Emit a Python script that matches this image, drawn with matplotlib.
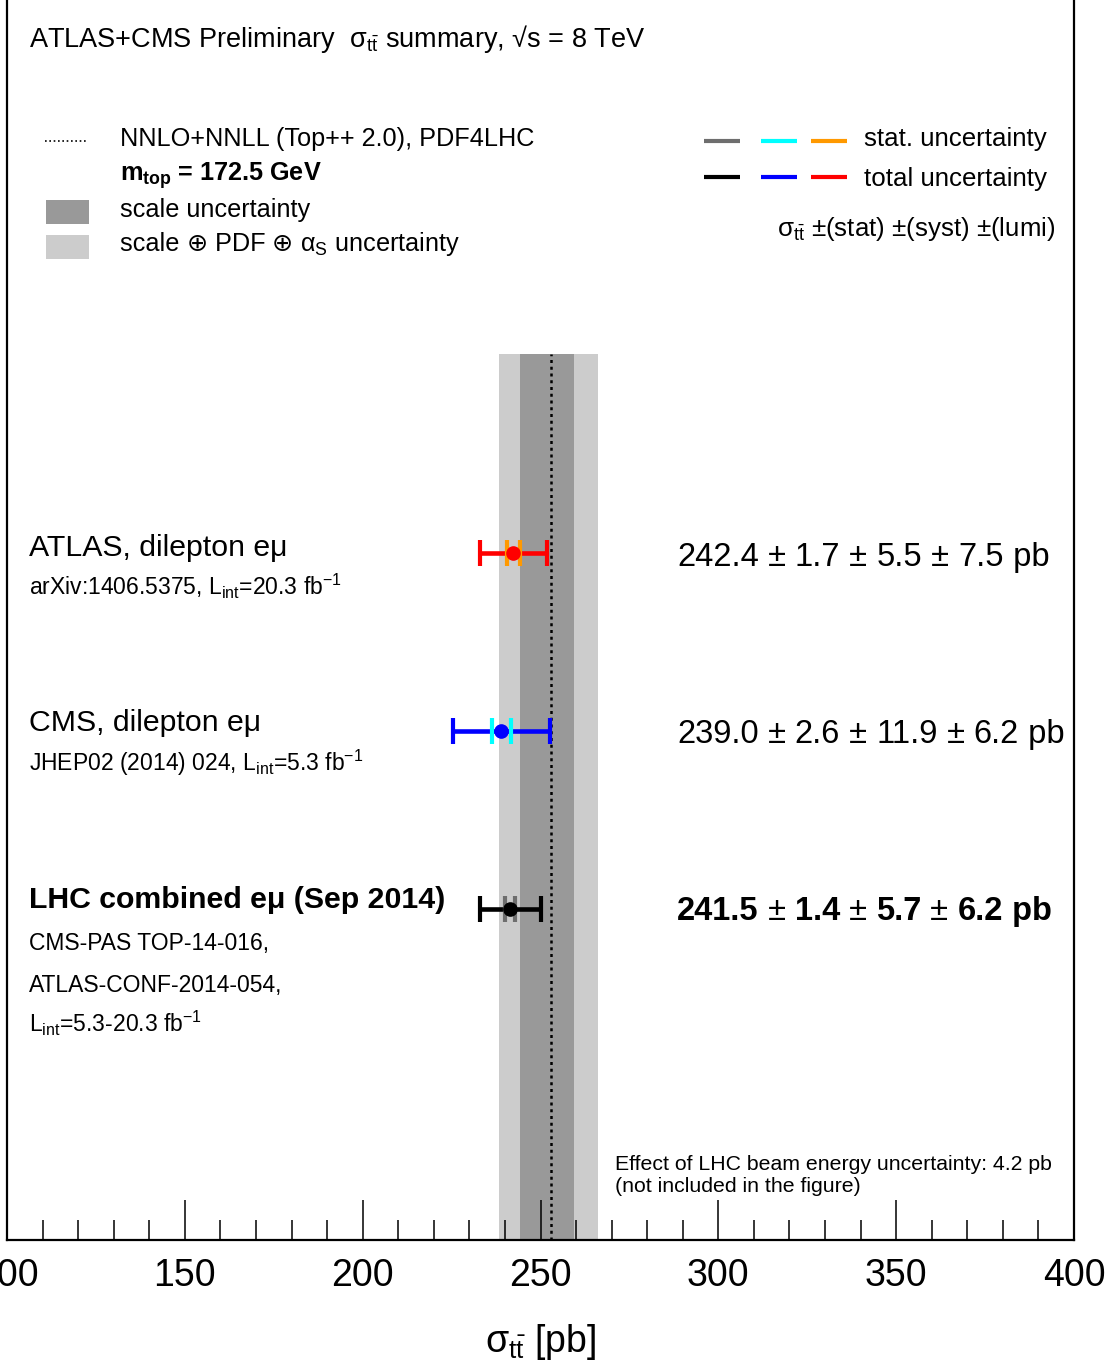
import numpy as np
import matplotlib
matplotlib.use("Agg")
import matplotlib.pyplot as plt
from matplotlib.ticker import MultipleLocator
from matplotlib.patches import Rectangle
from matplotlib.lines import Line2D

plt.rcParams['font.family'] = ['Liberation Sans', 'DejaVu Sans']
plt.rcParams['mathtext.fontset'] = 'custom'
plt.rcParams['mathtext.rm'] = 'Liberation Sans'
plt.rcParams['mathtext.it'] = 'Liberation Sans:italic'
plt.rcParams['mathtext.bf'] = 'Liberation Sans:bold'
plt.rcParams['mathtext.fallback'] = 'stixsans'

# ---------------- data ----------------
names = ["ATLAS, dilepton eμ", "CMS, dilepton eμ", "LHC combined eμ (Sep 2014)"]
name_bold = [False, False, True]
refs = [["arXiv:1406.5375, L$_{\\mathregular{int}}$=20.3 fb$^{\\mathregular{-1}}$"],
        ["JHEP02 (2014) 024, L$_{\\mathregular{int}}$=5.3 fb$^{\\mathregular{-1}}$"],
        ["CMS-PAS TOP-14-016,", "ATLAS-CONF-2014-054,",
         "L$_{\\mathregular{int}}$=5.3-20.3 fb$^{\\mathregular{-1}}$"]]
central = [242.4, 239.0, 241.5]
stat = [1.7, 2.6, 1.4]
syst = [5.5, 11.9, 5.7]
lumi = [7.5, 6.2, 6.2]
ypos = [3, 2, 1]
stat_colors = ['#ff9900', '#00ffff', '#6e6e6e']
total_colors = ['#ff0000', '#0000ff', '#000000']

theory_central = 252.9
theory_scale_band = [244.3, 259.3]
theory_total_band = [238.4, 266.2]

xticks_major = [100, 150, 200, 250, 300, 350, 400]

# ---------------- figure ----------------
W, H = 1115, 1372
fig = plt.figure(figsize=(W / 100, H / 100), dpi=100)
ax = fig.add_axes([7 / W, 1 - 1240 / H, (1074 - 7) / W, 1240 / H])
ymin, ymax = -0.86, 6.106
band_top = 4.118
ax.set_xlim(100, 400)
ax.set_ylim(ymin, ymax)


def P(x, y):
    return (x / W, 1 - y / H)


# theory bands
ax.fill_betweenx([ymin, band_top], theory_total_band[0], theory_total_band[1],
                 color='#cccccc', lw=0, zorder=1)
ax.fill_betweenx([ymin, band_top], theory_scale_band[0], theory_scale_band[1],
                 color='#999999', lw=0, zorder=1.1)
ax.plot([theory_central, theory_central], [ymin, band_top], color='k', lw=1.8,
        dashes=(1.2, 1.5), zorder=3)

# measurements
for c, s, sy, l, y, sc, tc in zip(central, stat, syst, lumi, ypos, stat_colors, total_colors):
    tot = np.sqrt(s ** 2 + sy ** 2 + l ** 2)
    ax.errorbar(c, y, xerr=tot, fmt='none', ecolor=tc, elinewidth=3.3,
                capsize=9.4, capthick=3.0, zorder=4)
    ax.plot([c - s, c + s], [y, y], linestyle='none', marker='|', color=sc,
            markersize=18.8, markeredgewidth=3.0, zorder=5)
    ax.plot(c, y, 'o', color=tc, markersize=9.5, zorder=6)

# axes style
for side in ['left', 'right', 'bottom']:
    ax.spines[side].set_linewidth(1.6)
ax.spines['top'].set_visible(False)
ax.set_yticks([])
ax.set_xticks(xticks_major)
ax.xaxis.set_minor_locator(MultipleLocator(10))
ax.tick_params(axis='x', which='major', direction='in', length=28.8, width=1.1,
               labelsize=27, pad=13)
ax.tick_params(axis='x', which='minor', direction='in', length=14.4, width=1.1)
ax.set_xlabel("$\\mathregular{σ_{t\\bar{t}}}$ [pb]", fontsize=27, labelpad=20)

fig.canvas.draw()
renderer = fig.canvas.get_renderer()


def pieces(x, y, parts, **common):
    """Draw a sequence of text pieces side by side starting at pixel (x, y)."""
    for txt, kw in parts:
        opts = dict(common)
        opts.update(kw)
        t = fig.text(*P(x, y), txt, va='baseline', **opts)
        x += t.get_window_extent(renderer).width


# ---------------- texts ----------------
fig.text(*P(29, 47), "ATLAS+CMS Preliminary  $\\mathregular{σ_{t\\bar{t}}}$ summary, "
         "√s = 8 TeV", fontsize=19.5, va='baseline')

# left legend
fig.add_artist(Line2D([45 / W, 87 / W], [1 - 141 / H, 1 - 141 / H], color='k', lw=1.2,
                      dashes=(1, 1.6)))
fig.add_artist(Rectangle(P(46, 224), 43 / W, 24 / H, color='#999999', lw=0))
fig.add_artist(Rectangle(P(46, 259), 43 / W, 24 / H, color='#cccccc', lw=0))
fig.text(*P(120, 146), "NNLO+NNLL (Top++ 2.0), PDF4LHC", fontsize=18.2, va='baseline')
fig.text(*P(120, 181), "$\\mathbf{m_{top}}$ = 172.5 GeV", fontsize=18.2,
         fontweight='bold', va='baseline')
fig.text(*P(120, 217), "scale uncertainty", fontsize=18.2, va='baseline')
dj = {'family': ['DejaVu Sans']}
pieces(120, 251, [("scale ", {}), ("⊕", dj), (" PDF ", {}), ("⊕", dj),
                  (" α$_{\\mathregular{S}}$ uncertainty", {})], fontsize=18.2)

# right legend
for yy, cols in [(141, ['#6e6e6e', '#00ffff', '#ff9900']), (177, ['#000000', '#0000ff', '#ff0000'])]:
    for x0, col in zip([704, 761, 811], cols):
        fig.add_artist(Line2D([x0 / W, (x0 + 36) / W], [1 - yy / H, 1 - yy / H],
                              color=col, lw=3.0, solid_capstyle='butt'))
fig.text(*P(864, 146), "stat. uncertainty", fontsize=18.6, va='baseline')
fig.text(*P(864, 186), "total uncertainty", fontsize=18.6, va='baseline')
fig.text(*P(1055, 236), "$\\mathregular{σ_{t\\bar{t}}}$ ±(stat) ±(syst) ±(lumi)",
         fontsize=18.6, va='baseline', ha='right')

# measurement labels
name_base = [556, 731, 908]
ref_base = [[595], [771], [950, 992, 1032]]
for nm, b, nb, rl, rb in zip(names, name_bold, name_base, refs, ref_base):
    fig.text(*P(29, nb), nm, fontsize=21.8, fontweight='bold' if b else 'normal',
             va='baseline')
    for t, yb in zip(rl, rb):
        fig.text(*P(29, yb), t, fontsize=16.5, va='baseline')

# value texts
val_base = [566, 743, 920]
for c, s, sy, l, b, nb in zip(central, stat, syst, lumi, val_base, name_bold):
    wnum = {'fontweight': 'bold' if nb else 'normal'}
    wpm = {'fontweight': 'normal'}
    parts = [("%.1f" % c, wnum), (" ± ", wpm), ("%.1f" % s, wnum), (" ± ", wpm),
             ("%.1f" % sy, wnum), (" ± ", wpm), ("%.1f" % l, wnum), (" pb", wnum)]
    pieces(677, b, parts, fontsize=23.5)

fig.text(*P(615, 1170), "Effect of LHC beam energy uncertainty: 4.2 pb", fontsize=15.3,
         va='baseline')
fig.text(*P(615, 1192), "(not included in the figure)", fontsize=15.3, va='baseline')

fig.savefig("out.png", dpi=100)
